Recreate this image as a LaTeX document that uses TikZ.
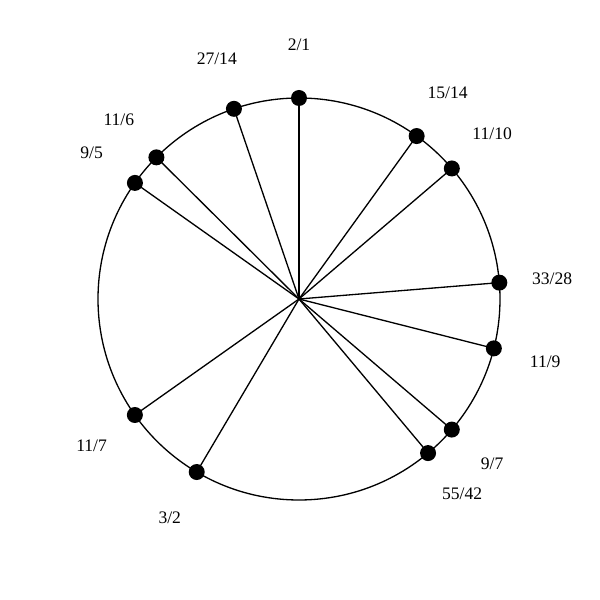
\documentclass[tikz,border=0pt]{standalone}
\usepackage{fontspec}
\setmainfont{Liberation Serif}
\usetikzlibrary{calc}
\begin{document}
\begin{tikzpicture}[
  dot/.style={circle,fill=black,inner sep=0pt,minimum size=0.32cm},
  lbl/.style={font=\fontsize{10}{12}\selectfont},
  spoke/.style={line width=0.75pt},
  ring/.style={line width=0.75pt}]
\useasboundingbox (0,0) rectangle (12,12);
\coordinate (c) at (5.98,6.02);
\draw[ring] (c) circle (4.02);
\foreach \n/\a/\t in {a/90/2\slash1, b/54.17/15\slash14, d/40.5/11\slash10, e/4.67/33\slash28,
  f/-14.22/11\slash9, g/-40.52/9\slash7, h/-50.05/55\slash42, i/-120.59/3\slash2,
  j/-144.75/11\slash7, k/144.72/9\slash5, l/135.19/11\slash6, m/108.89/27\slash14} {
  \node[dot] (p\n) at ($(c)+(\a:4.02)$) {};
  \draw[spoke] (c) -- (p\n.center);
  \node[lbl] (t\n) at ($(c)+(\a:5.08)$) {\t};
}
\end{tikzpicture}
\end{document}
